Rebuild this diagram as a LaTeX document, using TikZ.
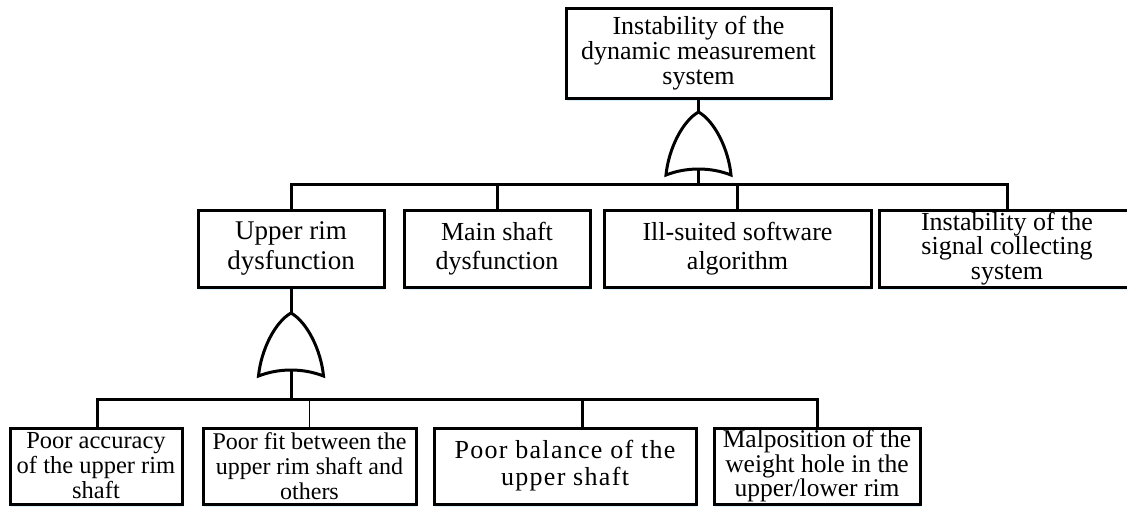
\documentclass[tikz,border=0pt]{standalone}
\usepackage{fontspec}
\setmainfont{Liberation Serif}
\usetikzlibrary{shadows}
\newcommand{\fs}[2]{\fontsize{#1}{#2}\selectfont}
\begin{document}
\begin{tikzpicture}[x=1pt,y=-1pt,
  line width=3pt,
  box/.style={draw, fill=white, line width=3pt, align=center, inner sep=0pt,
    drop shadow={opacity=0.15, fill=blue!35!cyan, shadow xshift=1pt, shadow yshift=-2.5pt}},
  thinline/.style={line width=1.4pt},
  orgate/.pic={
    \draw[line width=3pt, fill=white, line join=miter]
      (-32.5,63) .. controls (-30,37) and (-16,9) .. (0,0)
      .. controls (16,9) and (30,37) .. (32.5,63)
      .. controls (12,55) and (-12,55) .. (-32.5,63) -- cycle;
  }]
\useasboundingbox (0,0) rectangle (1127,507);

% top event
\node[box, minimum width=265pt, minimum height=90pt, font=\fs{26}{25}] (top) at (698.5,53)
  {Instability of the\\dynamic measurement\\system};

% second row
\node[box, minimum width=186pt, minimum height=77pt, font=\fs{27}{29.5}] (A) at (291,248.5)
  {Upper rim\\dysfunction};
\node[box, minimum width=186pt, minimum height=77pt, font=\fs{26}{29.5}] (B) at (497,248.5)
  {Main shaft\\dysfunction};
\node[box, minimum width=267pt, minimum height=77pt, font=\fs{26}{29.5}] (C) at (737.5,248.5)
  {Ill-suited software\\algorithm};
\node[box, minimum width=256pt, minimum height=77pt, font=\fs{26}{24.5}] (D) at (1007,248.5)
  {Instability of the\\signal collecting\\system};

% third row
\node[box, minimum width=172pt, minimum height=76pt, font=\fs{24.5}{25}] (E) at (96,466)
  {Poor accuracy\\of the upper rim\\shaft};
\node[box, minimum width=213pt, minimum height=76pt, font=\fs{24}{25}] (F) at (309.5,466)
  {Poor fit between the\\upper rim shaft and\\others};
\node[box, minimum width=262pt, minimum height=76pt, font=\fs{26}{27}\addfontfeatures{LetterSpace=5}] (G) at (565,466)
  {Poor balance of the\\upper shaft};
\node[box, minimum width=206pt, minimum height=76pt, font=\fs{25.5}{24.5}] (H) at (817,466)
  {Malposition of the\\weight hole in the\\upper/lower rim};

% gate 1
\coordinate (g1apex) at (698.5,112);
\coordinate (g1base) at (698.5,169);
\coordinate (bus1) at (698.5,184);
\draw (top.south) -- (g1apex);
\pic at (g1apex) {orgate};
\draw (g1base) -- (bus1);
\draw (A.north) |- (bus1) -| (D.north);
\draw (B.north) -- (B.north |- bus1);
\draw (C.north) -- (C.north |- bus1);

% gate 2
\coordinate (g2apex) at (291,313);
\coordinate (g2base) at (291,370);
\coordinate (bus2) at (291,399);
\draw (A.south) -- (g2apex);
\pic at (g2apex) {orgate};
\draw (g2base) -- (bus2);
\draw ([xshift=1pt]E.north) |- (bus2) -| (H.north);
\draw[thinline] (F.north) -- (F.north |- bus2);
\draw ([xshift=17pt]G.north) -- ([xshift=17pt]G.north |- bus2);
\end{tikzpicture}
\end{document}
